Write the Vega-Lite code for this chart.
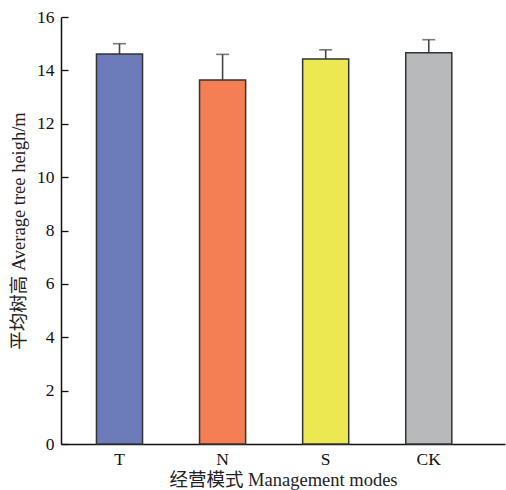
{
  "$schema": "https://vega.github.io/schema/vega-lite/v6.json",
  "autosize": "none",
  "width": 444,
  "height": 427,
  "padding": {"left": 61, "top": 17, "right": 1, "bottom": 46},
  "background": "white",
  "config": {
    "view": {"stroke": null},
    "font": "Liberation Serif"
  },
  "data": {
    "values": [
      {"mode": "T", "height": 14.61, "upper": 15.0},
      {"mode": "N", "height": 13.64, "upper": 14.6},
      {"mode": "S", "height": 14.43, "upper": 14.77},
      {"mode": "CK", "height": 14.66, "upper": 15.15}
    ]
  },
  "encoding": {
    "x": {
      "field": "mode",
      "type": "nominal",
      "sort": ["T", "N", "S", "CK"],
      "scale": {"paddingInner": 0.553, "paddingOuter": 0.43, "align": 0.4},
      "axis": {
        "title": "经营模式 Management modes",
        "titleFont": "Liberation Serif, Noto Sans CJK SC",
        "titleFontSize": 18.5,
        "titleFontWeight": "normal",
        "titleColor": "#222",
        "titlePadding": 3,
        "labelFont": "Liberation Serif",
        "labelFontSize": 17.5,
        "labelColor": "#111",
        "labelAngle": 0,
        "labelPadding": 6,
        "ticks": false,
        "domainColor": "#111",
        "domainWidth": 1.5
      }
    }
  },
  "layer": [
    {
      "mark": {"type": "rule", "color": "#444", "strokeWidth": 1.6},
      "encoding": {
        "y": {"field": "height", "type": "quantitative"},
        "y2": {"field": "upper"}
      }
    },
    {
      "mark": {"type": "tick", "color": "#444", "thickness": 1.6, "size": 13, "orient": "horizontal"},
      "encoding": {
        "y": {"field": "upper", "type": "quantitative"}
      }
    },
    {
      "mark": {"type": "bar", "stroke": "#333", "strokeWidth": 1.5},
      "encoding": {
        "y": {
          "field": "height",
          "type": "quantitative",
          "scale": {"domain": [0, 16], "nice": false},
          "axis": {
            "title": "平均树高 Average tree heigh/m",
            "titleFont": "Liberation Serif, Noto Sans CJK SC",
            "titleFontSize": 18.5,
            "titleFontWeight": "normal",
            "titleColor": "#222",
            "titlePadding": 8,
            "labelFont": "Liberation Serif",
            "labelFontSize": 17.5,
            "labelColor": "#111",
            "labelPadding": 14,
            "values": [0, 2, 4, 6, 8, 10, 12, 14, 16],
            "tickSize": -7,
            "tickColor": "#111",
            "tickWidth": 1.3,
            "grid": false,
            "domainColor": "#111",
            "domainWidth": 1.5
          }
        },
        "color": {
          "field": "mode",
          "type": "nominal",
          "scale": {"domain": ["T", "N", "S", "CK"], "range": ["#6c7bba", "#f47f55", "#ebe852", "#b8b9ba"]},
          "legend": null
        }
      }
    }
  ]
}
